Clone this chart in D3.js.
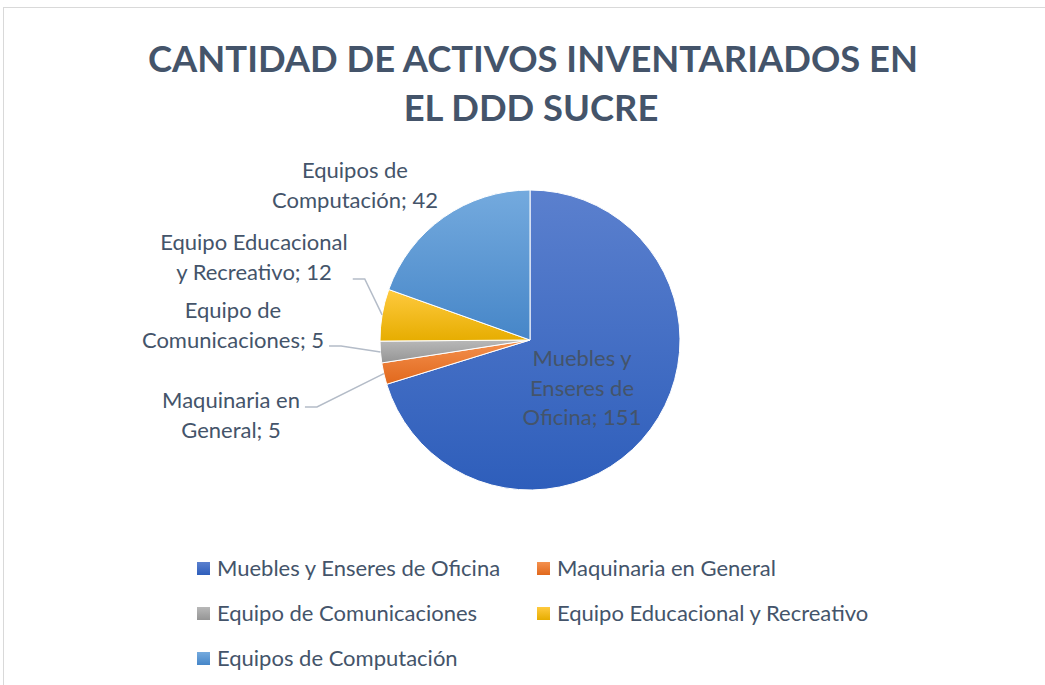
<!DOCTYPE html>
<html>
<head>
<meta charset="utf-8">
<script src="https://cdn.jsdelivr.net/npm/d3@7"></script>
<style>
  body { margin: 0; background: #fff; }
  svg { display: block; font-family: Lato, "Open Sans", sans-serif; }
</style>
</head>
<body>
<div class="chart"></div>
<script>
// data
const categories = ['Muebles y Enseres de Oficina', 'Maquinaria en General', 'Equipo de Comunicaciones', 'Equipo Educacional y Recreativo', 'Equipos de Computación'];
const values = [151, 5, 5, 12, 42];
const titleLines = ['CANTIDAD DE ACTIVOS INVENTARIADOS EN', 'EL DDD SUCRE'];

// styles
const colTop = ['#5b80ce', '#f4914f', '#b8b8b8', '#ffca3f', '#74aade'];
const colBot = ['#2e5ebb', '#e1681c', '#959595', '#e6ad00', '#4686c8'];
const textCol = '#44546a';

// label layout: words per line, label centre x, first baseline, leader y (null = none)
const labelWords = [[2, 2, 2], [2, 2], [2, 2], [2, 3], [2, 2]];
const labelX = [582, 231, 233, 254, 355];
const labelY = [366, 408, 318, 250, 178];
const leaderY = [null, 407, 346, 279, null];

const w = 1045, h = 685;
const cx = 530, cy = 340, r = 150;

const svg = d3.select('div.chart').append('svg')
  .attr('width', w)
  .attr('height', h);

// chart frame
svg.append('rect')
  .attr('x', 3.5).attr('y', 7.5)
  .attr('width', w + 10).attr('height', h + 10)
  .attr('fill', 'none')
  .attr('stroke', '#d9d9d9')
  .attr('stroke-width', 1);

const defs = svg.append('defs');
values.forEach((v, i) => {
  const g = defs.append('linearGradient')
    .attr('id', 'grad' + i)
    .attr('x1', 0).attr('y1', 0).attr('x2', 0).attr('y2', 1);
  g.append('stop').attr('offset', '0%').attr('stop-color', colTop[i]);
  g.append('stop').attr('offset', '100%').attr('stop-color', colBot[i]);
});

// title, sized to fit the reference width
const title = svg.append('g')
  .attr('fill', textCol)
  .attr('font-weight', 'bold')
  .attr('text-anchor', 'middle');
const t1 = title.append('text').text(titleLines[0]).attr('x', 533).attr('y', 72).attr('font-size', 40);
const tw = t1.node().getComputedTextLength();
const titleSize = 40 * 770 / tw;
t1.attr('font-size', titleSize);
title.append('text').text(titleLines[1]).attr('x', 531).attr('y', 121).attr('font-size', titleSize);

// pie
const pie = d3.pie().sort(null).value(d => d)(values);
const arc = d3.arc().innerRadius(0).outerRadius(r);

const pieG = svg.append('g').attr('transform', `translate(${cx},${cy})`);
pieG.selectAll('path')
  .data(pie)
  .enter()
  .append('path')
  .attr('d', arc)
  .attr('fill', (d, i) => `url(#grad${i})`)
  .attr('stroke', '#fff')
  .attr('stroke-width', 1);

// data labels
const lblSize = 22;
const labels = svg.append('g')
  .attr('fill', textCol)
  .attr('font-size', lblSize)
  .attr('text-anchor', 'middle');

pie.forEach((d, i) => {
  const words = (categories[i] + '; ' + values[i]).split(' ');
  let k = 0;
  const lines = labelWords[i].map(n => { const s = words.slice(k, k + n).join(' '); k += n; return s; });
  const t = labels.append('text').attr('y', labelY[i]);
  let maxW = 0;
  lines.forEach((s, j) => {
    const ts = t.append('tspan').attr('x', labelX[i]).attr('dy', j ? 29.5 : 0).text(s);
    maxW = Math.max(maxW, ts.node().getComputedTextLength());
  });
  if (leaderY[i] != null) {
    const a = (d.startAngle + d.endAngle) / 2;
    const px = cx + Math.sin(a) * r, py = cy - Math.cos(a) * r;
    const x0 = labelX[i] + maxW / 2 + 5;
    svg.append('polyline')
      .attr('points', [[x0, leaderY[i]], [x0 + 12, leaderY[i]], [px, py]].map(p => p.join(',')).join(' '))
      .attr('fill', 'none')
      .attr('stroke', '#b4bcc8')
      .attr('stroke-width', 1.5);
  }
});

// legend
const legX = [197, 537];
const legY = [562, 607, 652];
const legend = svg.append('g').attr('font-size', lblSize).attr('fill', textCol);
categories.forEach((c, i) => {
  const x = legX[i % 2], y = legY[Math.floor(i / 2)];
  legend.append('rect')
    .attr('x', x).attr('y', y)
    .attr('width', 13).attr('height', 13)
    .attr('fill', `url(#grad${i})`);
  legend.append('text')
    .attr('x', x + 20).attr('y', y + 14)
    .text(c);
});
</script>
</body>
</html>
